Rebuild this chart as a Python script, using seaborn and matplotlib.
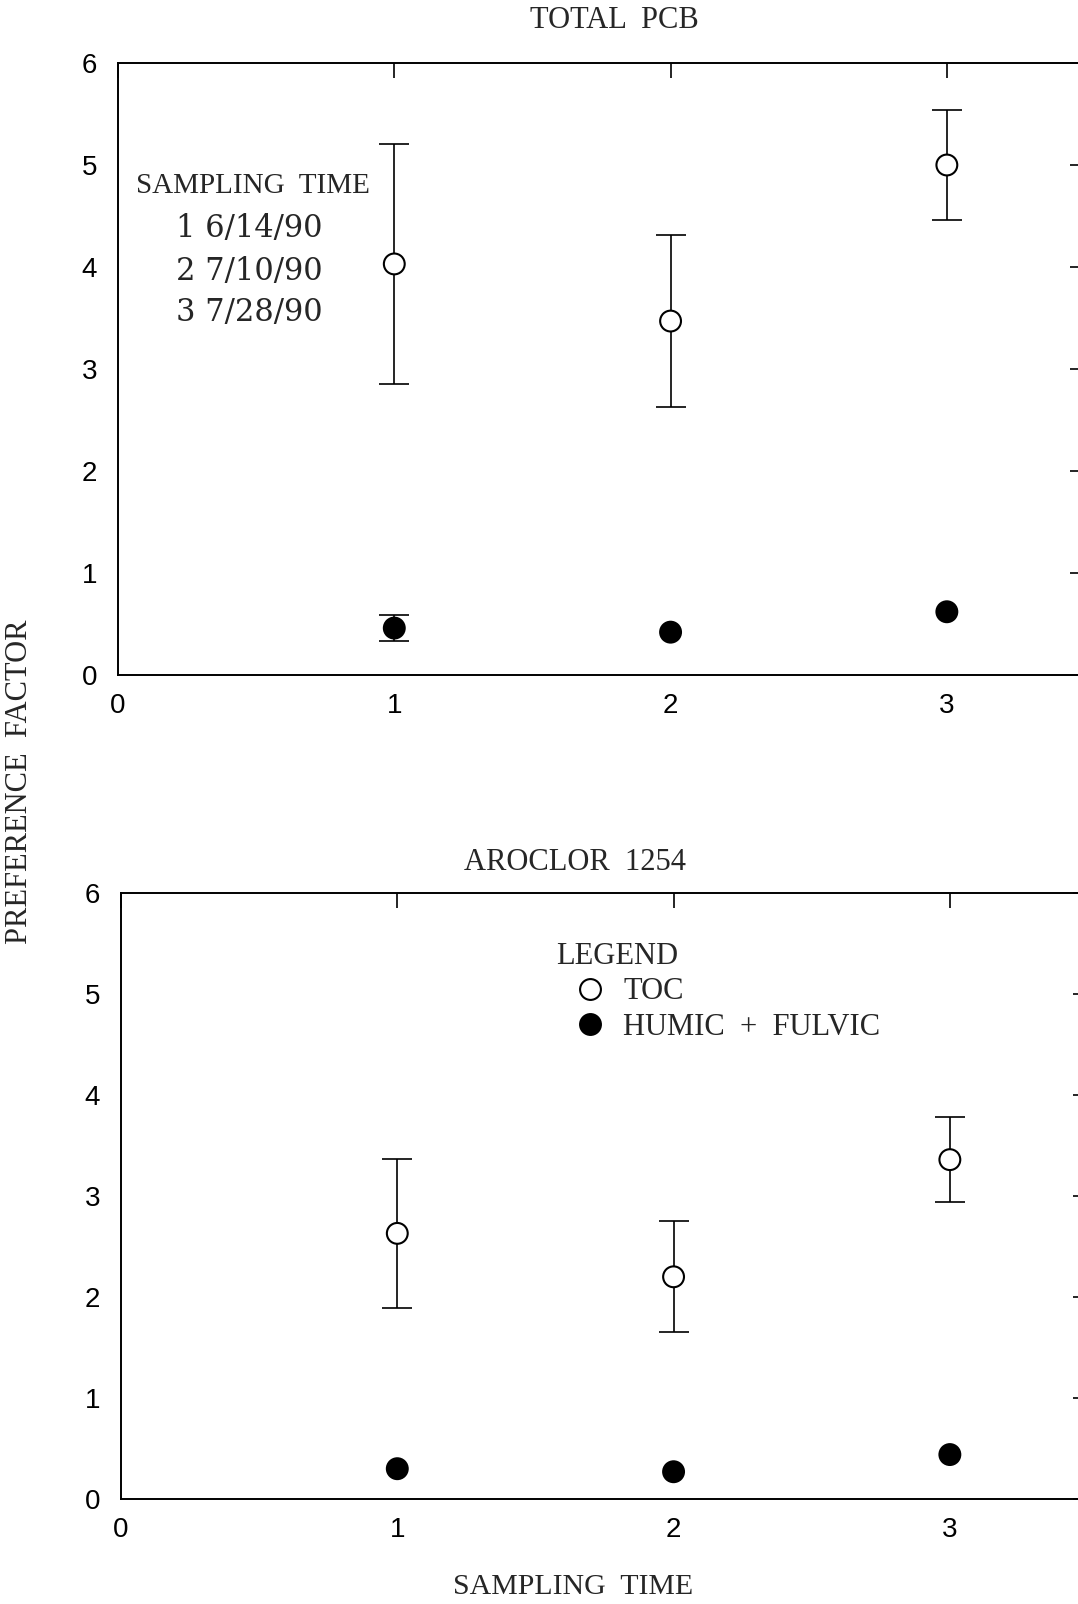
import numpy as np
import pandas as pd
import matplotlib
matplotlib.use("Agg")
import matplotlib.pyplot as plt
import seaborn as sns

# ---- data ----
sampling_time = [1, 2, 3]
series_names = ["TOC", "HUMIC  +  FULVIC"]

pcb_toc = [4.03, 3.47, 5.00]
pcb_toc_err = [1.18, 0.84, 0.54]
pcb_hf = [0.46, 0.42, 0.62]
pcb_hf_err = [0.13, 0.0, 0.0]

aro_toc = [2.63, 2.20, 3.36]
aro_toc_err = [0.74, 0.55, 0.42]
aro_hf = [0.30, 0.27, 0.44]
aro_hf_err = [0.0, 0.0, 0.0]

panel_titles = ["TOTAL  PCB", "AROCLOR  1254"]
y_ticks = [0, 1, 2, 3, 4, 5, 6]
x_ticks = [0, 1, 2, 3]
date_lines = ["1 6/14/90", "2 7/10/90", "3 7/28/90"]

# ---- tidy frame ----
rows = []
for panel, toc, toce, hf, hfe in [
    (panel_titles[0], pcb_toc, pcb_toc_err, pcb_hf, pcb_hf_err),
    (panel_titles[1], aro_toc, aro_toc_err, aro_hf, aro_hf_err),
]:
    for t, v, e in zip(sampling_time, toc, toce):
        rows.append(dict(panel=panel, time=t, series=series_names[0], value=v, err=e))
    for t, v, e in zip(sampling_time, hf, hfe):
        rows.append(dict(panel=panel, time=t, series=series_names[1], value=v, err=e))
df = pd.DataFrame(rows)

sns.set_theme(style="white")
serif = ["Liberation Serif", "DejaVu Serif"]
wide_serif = ["DejaVu Serif"]
plt.rcParams["font.family"] = ["Liberation Sans", "DejaVu Sans"]

W, H = 1078, 1604
fig = plt.figure(figsize=(W / 100, H / 100), dpi=100)

def fx(px):
    return px / W

def fy(px):
    return 1 - px / H

ax_top = fig.add_axes([fx(118), fy(675), fx(1085 - 118), fy(63) - fy(675)])
ax_bot = fig.add_axes([fx(121), fy(1499), fx(1088 - 121), fy(893) - fy(1499)])

palette = {series_names[0]: "white", series_names[1]: "black"}

for ax, title, show_leg in [(ax_top, panel_titles[0], False), (ax_bot, panel_titles[1], True)]:
    sub = df[df.panel == title]
    eb = sub[sub["err"] > 0]
    ax.errorbar(eb["time"], eb["value"], yerr=eb["err"], fmt="none",
                ecolor="black", elinewidth=1.2, capsize=11, capthick=1.2, zorder=1)
    sns.scatterplot(data=sub, x="time", y="value", hue="series", palette=palette,
                    s=225, edgecolor="black", linewidth=1.5, ax=ax, zorder=3,
                    legend=show_leg)
    ax.set_xlim(0, 3.5)
    ax.set_ylim(0, 6)
    ax.set_xticks(x_ticks)
    ax.set_yticks(y_ticks)
    ax.set_xlabel("")
    ax.set_ylabel("")
    for sp in ax.spines.values():
        sp.set_visible(True)
        sp.set_color("black")
        sp.set_linewidth(1.4)
    ax.tick_params(axis="both", direction="in", length=11, width=1.2,
                   top=True, right=True, labelsize=20, colors="black")
    ax.tick_params(axis="x", pad=13)
    ax.tick_params(axis="y", pad=15)

    if show_leg:
        handles, labels = ax.get_legend_handles_labels()
        leg = ax.legend(handles, labels, title="LEGEND", loc="upper left",
                        bbox_to_anchor=(0.434, 0.945), frameon=False,
                        borderpad=0, handlelength=2.2, handletextpad=0.0,
                        labelspacing=0.22, markerscale=1.0,
                        prop={"family": serif, "size": 22},
                        title_fontproperties={"family": serif, "size": 22})
        leg._legend_box.align = "left"

# panel titles
fig.text(fx(614), fy(20), panel_titles[0], ha="center", va="center",
         fontsize=22, family=serif)
fig.text(fx(575), fy(862), panel_titles[1], ha="center", va="center",
         fontsize=22, family=serif)

# sampling time key in the top panel
ax_top.text(0.065, 4.79, "SAMPLING  TIME", ha="left", va="center",
            fontsize=21, family=serif)
for yv, line in zip([4.38, 3.96, 3.55], date_lines):
    ax_top.text(0.21, yv, line, ha="left", va="center", fontsize=22,
                family=wide_serif)

# shared axis labels
fig.text(fx(20), fy(782), "PREFERENCE  FACTOR", rotation=90, ha="center",
         va="center", fontsize=22, family=serif)
fig.text(fx(573), fy(1587), "SAMPLING  TIME", ha="center", va="center",
         fontsize=21.5, family=serif)

fig.savefig("out.png", dpi=100)
